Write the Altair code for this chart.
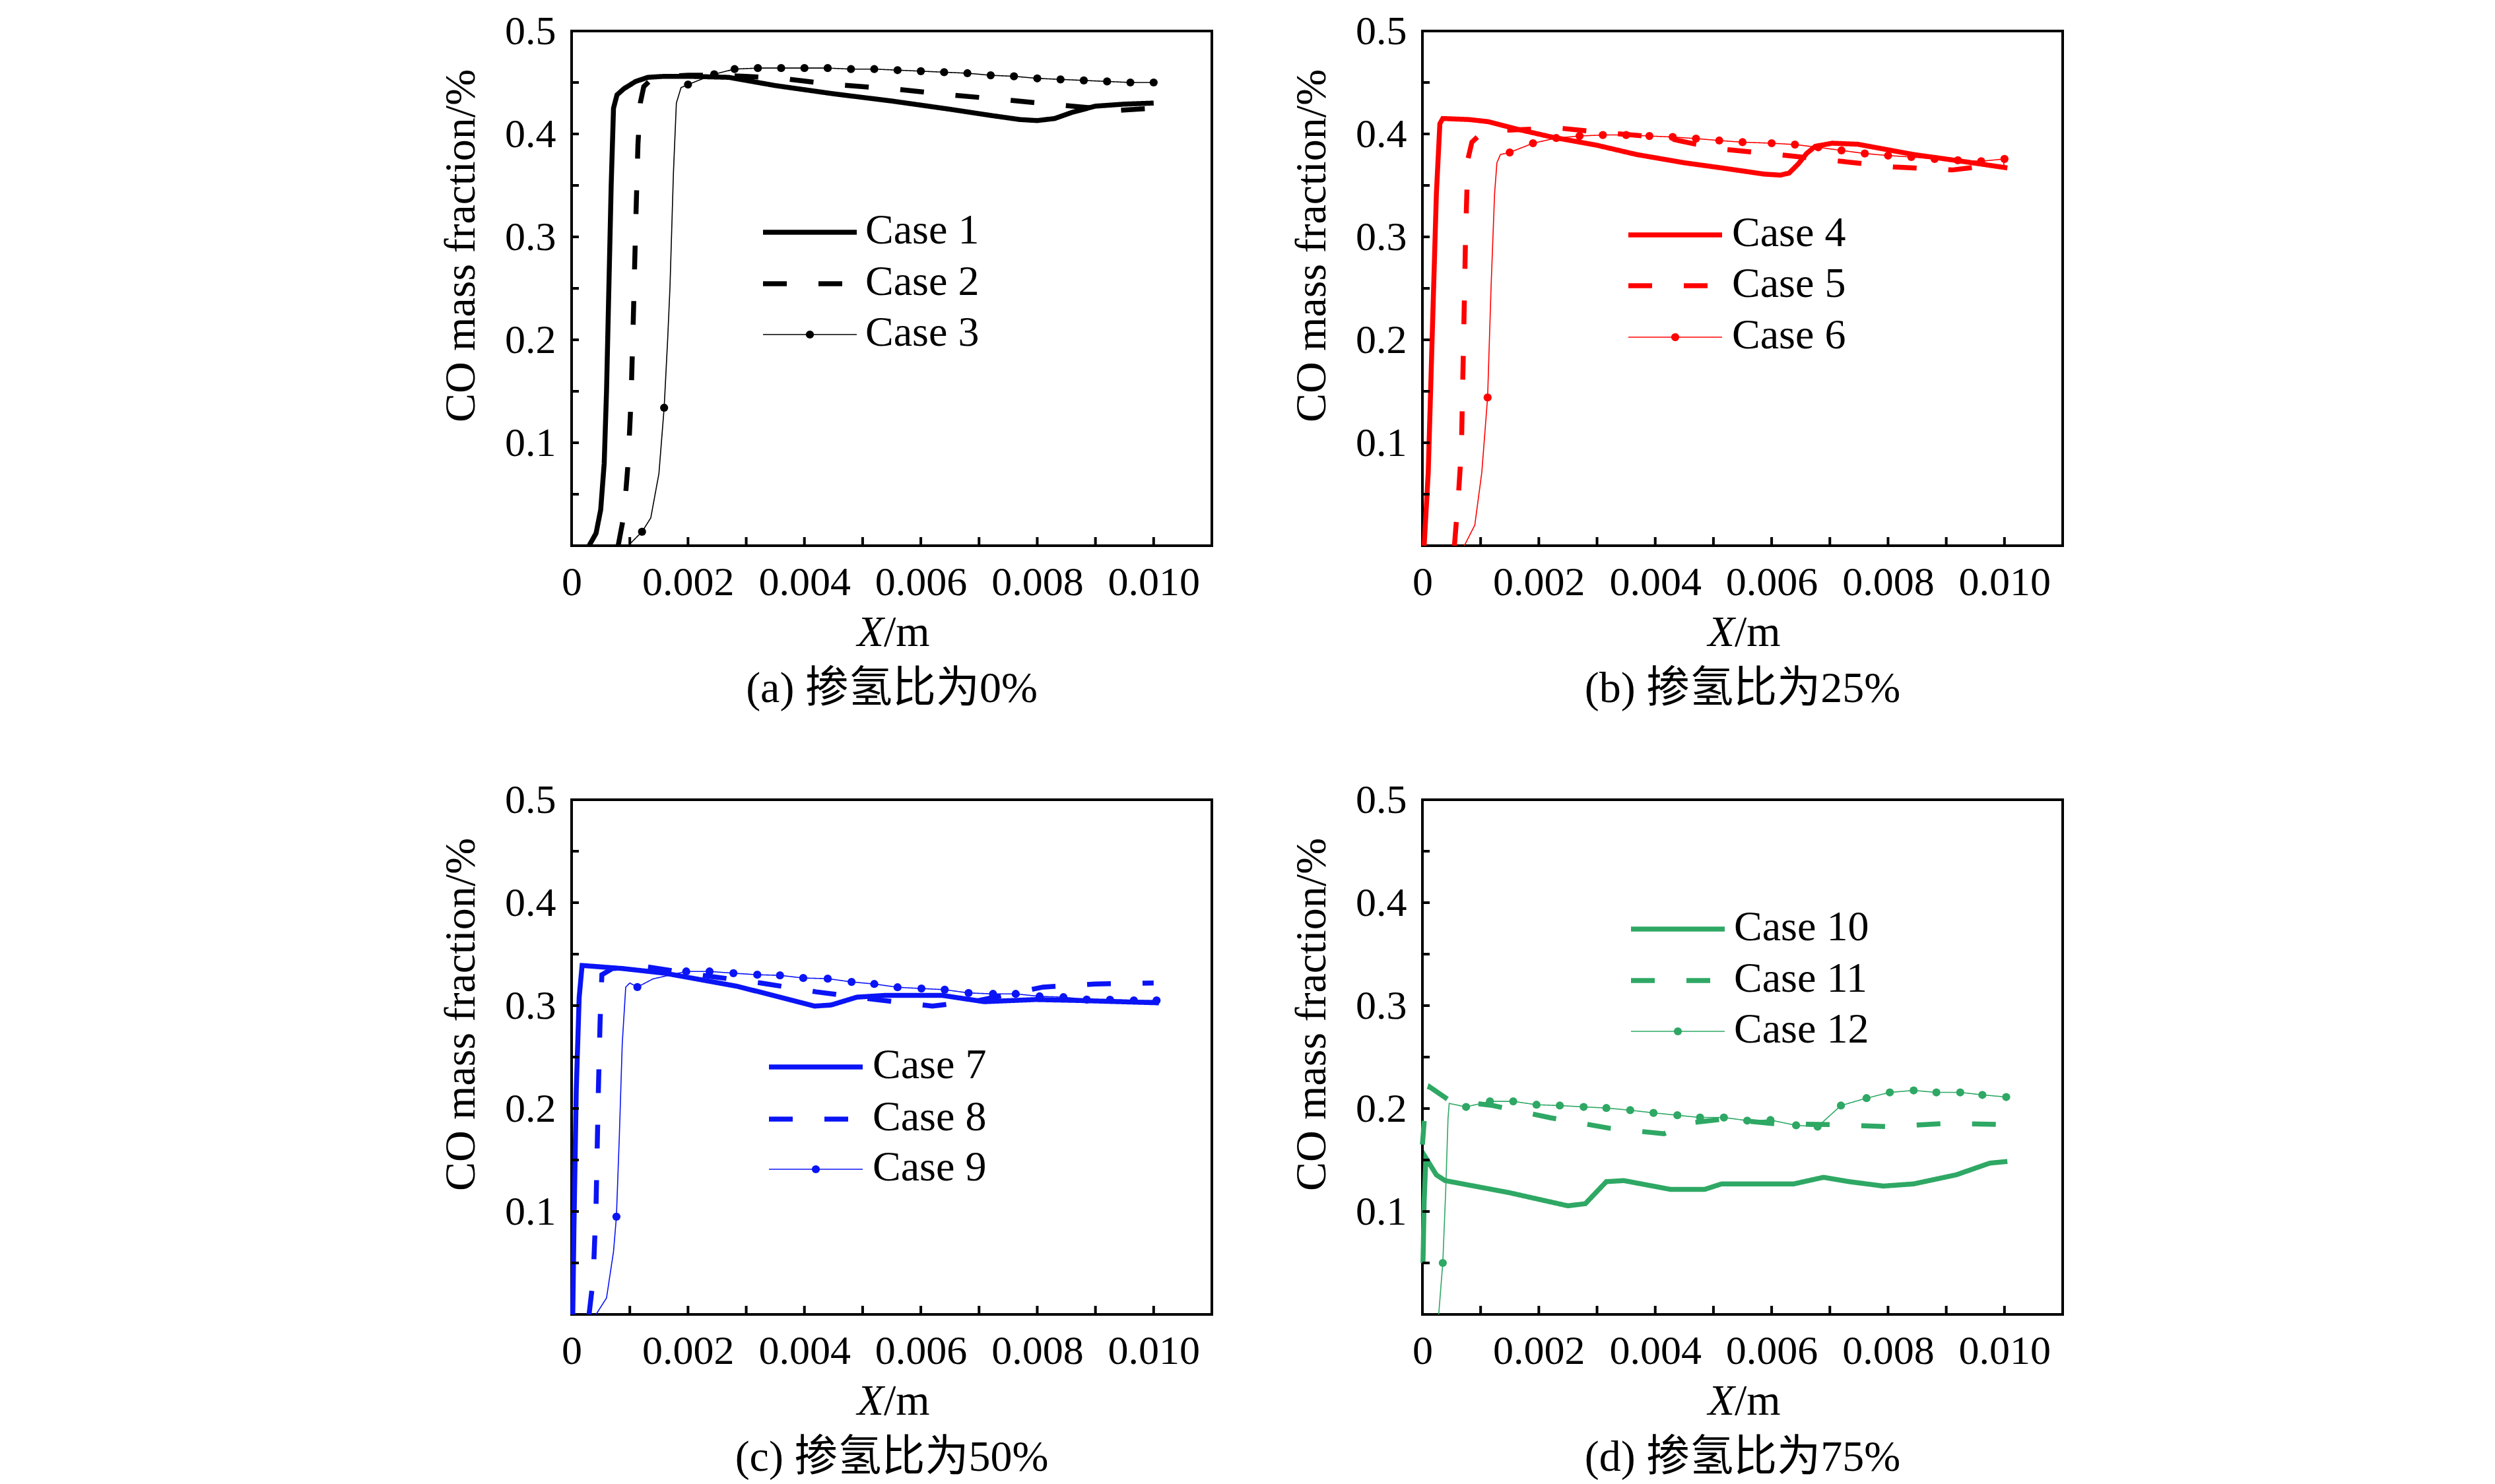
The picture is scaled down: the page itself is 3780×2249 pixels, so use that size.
import altair as alt
import pandas as pd

FONT = "Liberation Serif"
CJK_FONT = "Liberation Serif, Noto Sans CJK SC"
W, H = 970, 780
XDOM = [0, 0.011]
YDOM = [0, 0.5]
X_LABELS = [0, 0.002, 0.004, 0.006, 0.008, 0.010]
Y_LABELS = [0.1, 0.2, 0.3, 0.4, 0.5]
X_TICKS = [0.001, 0.002, 0.003, 0.004, 0.005, 0.006, 0.007, 0.008, 0.009, 0.010]
Y_TICKS = [0.05, 0.10, 0.15, 0.20, 0.25, 0.30, 0.35, 0.40, 0.45]

# ---------------- panel (a) 0% ----------------
a_names = ["Case 1", "Case 2", "Case 3"]
x1 = [0.00030, 0.00042, 0.00050, 0.00056, 0.00060, 0.00064, 0.00068, 0.00072, 0.00078, 0.00090,
      0.00110, 0.00131, 0.0016, 0.0020, 0.0027, 0.0035, 0.0045, 0.0055, 0.0065, 0.0072,
      0.0077, 0.0080, 0.0083, 0.0086, 0.0090, 0.0095, 0.0100]
y1 = [0.0, 0.012, 0.035, 0.080, 0.15, 0.25, 0.35, 0.425, 0.438, 0.444,
      0.451, 0.455, 0.456, 0.456, 0.455, 0.447, 0.439, 0.432, 0.424, 0.418,
      0.414, 0.413, 0.415, 0.421, 0.427, 0.429, 0.430]
x2 = [0.00080, 0.00090, 0.00097, 0.00102, 0.00106, 0.00110, 0.00114, 0.00118, 0.00124, 0.00135,
      0.0016, 0.0020, 0.0025, 0.0030, 0.0036, 0.0045, 0.0055, 0.0065, 0.0075, 0.0084, 0.0094, 0.0100]
y2 = [0.0, 0.03, 0.08, 0.14, 0.22, 0.31, 0.39, 0.43, 0.446, 0.452,
      0.456, 0.457, 0.457, 0.456, 0.454, 0.448, 0.444, 0.438, 0.433, 0.428, 0.423, 0.425]
x3 = [0.00097, 0.00121, 0.00136, 0.00150, 0.00159, 0.00165, 0.00169, 0.00175, 0.00180, 0.00188,
      0.0020, 0.00245, 0.0028, 0.0032, 0.0036, 0.0040, 0.0044, 0.0048, 0.0052, 0.0056,
      0.0060, 0.0064, 0.0068, 0.0072, 0.0076, 0.0080, 0.0084, 0.0088, 0.0092, 0.0096, 0.0100]
y3 = [0.0, 0.0135, 0.027, 0.070, 0.134, 0.200, 0.251, 0.363, 0.430, 0.445,
      0.448, 0.458, 0.463, 0.464, 0.464, 0.464, 0.464, 0.463, 0.463, 0.462,
      0.461, 0.460, 0.459, 0.457, 0.456, 0.454, 0.453, 0.452, 0.451, 0.450, 0.450]
m3 = [0, 1, 0, 0, 1, 0, 0, 0, 0, 0] + [1] * 21

# ---------------- panel (b) 25% ----------------
b_names = ["Case 4", "Case 5", "Case 6"]
x4 = [0.00003, 0.00010, 0.00017, 0.00024, 0.00030, 0.00035, 0.00080, 0.00112, 0.00160, 0.00222,
      0.00300, 0.00368, 0.00450, 0.00514, 0.00587, 0.00615, 0.00630, 0.00646, 0.00660, 0.00675,
      0.00704, 0.00748, 0.00844, 0.00920, 0.01005]
y4 = [0.0, 0.071, 0.207, 0.342, 0.410, 0.415, 0.414, 0.412, 0.405, 0.397,
      0.389, 0.380, 0.372, 0.367, 0.361, 0.360, 0.362, 0.371, 0.381, 0.388,
      0.391, 0.390, 0.380, 0.374, 0.367]
x5 = [0.00055, 0.00062, 0.00067, 0.00071, 0.00074, 0.00078, 0.00085, 0.00100, 0.00120, 0.00160,
      0.00200, 0.00230, 0.00300, 0.00360, 0.00420, 0.00470, 0.00520, 0.00610, 0.00710, 0.00810,
      0.00910, 0.01000]
y5 = [0.0, 0.050, 0.094, 0.207, 0.297, 0.375, 0.392, 0.400, 0.403, 0.404,
      0.405, 0.406, 0.402, 0.399, 0.396, 0.390, 0.385, 0.380, 0.374, 0.368,
      0.365, 0.371]
x6 = [0.00072, 0.00090, 0.00102, 0.00112, 0.00118, 0.00124, 0.00128, 0.00134, 0.0015, 0.0019,
      0.0023, 0.0027, 0.0031, 0.0035, 0.0039, 0.0043, 0.0047, 0.0051, 0.0055, 0.0060,
      0.0064, 0.0068, 0.0072, 0.0076, 0.0080, 0.0084, 0.0088, 0.0092, 0.0096, 0.0100]
y6 = [0.0, 0.020, 0.071, 0.144, 0.252, 0.342, 0.372, 0.380, 0.382, 0.391,
      0.396, 0.398, 0.399, 0.399, 0.398, 0.397, 0.3955, 0.3936, 0.392, 0.391,
      0.3897, 0.387, 0.384, 0.381, 0.379, 0.3776, 0.3757, 0.3744, 0.3735, 0.3757]
m6 = [0, 0, 0, 1, 0, 0, 0, 0] + [1] * 22

# ---------------- panel (c) 50% ----------------
c_names = ["Case 7", "Case 8", "Case 9"]
x7 = [0.00002, 0.00004, 0.00008, 0.00013, 0.00018, 0.00088, 0.00160, 0.00285, 0.00358, 0.00417,
      0.00446, 0.00490, 0.00541, 0.00636, 0.00709, 0.00797, 0.00870, 0.01009]
y7 = [0.0, 0.083, 0.218, 0.308, 0.339, 0.336, 0.3315, 0.3187, 0.3082, 0.2995,
      0.3006, 0.3082, 0.310, 0.310, 0.3038, 0.3059, 0.305, 0.3027]
x8 = [0.00030, 0.00037, 0.00042, 0.00046, 0.00049, 0.00052, 0.00070, 0.00130, 0.00230, 0.00325,
      0.00420, 0.00520, 0.00620, 0.00700, 0.00810, 0.00900, 0.01000]
y8 = [0.0, 0.034, 0.106, 0.218, 0.286, 0.330, 0.336, 0.3377, 0.329, 0.322,
      0.3134, 0.306, 0.2995, 0.305, 0.318, 0.321, 0.322]
x9 = [0.00042, 0.00060, 0.00072, 0.00077, 0.00082, 0.00087, 0.00093, 0.00100, 0.00113, 0.00140,
      0.00197, 0.00237, 0.00278, 0.00319, 0.00358, 0.00398, 0.00440, 0.00481, 0.00520, 0.00560,
      0.00601, 0.00641, 0.00682, 0.00724, 0.00763, 0.00804, 0.00845, 0.00885, 0.00925, 0.00966,
      0.01005]
y9 = [0.0, 0.016, 0.061, 0.095, 0.173, 0.263, 0.318, 0.322, 0.318, 0.326,
      0.3332, 0.3332, 0.3315, 0.330, 0.3294, 0.3268, 0.3262, 0.323, 0.321, 0.3178,
      0.3166, 0.3155, 0.3123, 0.3114, 0.3114, 0.309, 0.3082, 0.3059, 0.3057, 0.305,
      0.305]
m9 = [0, 0, 0, 1, 0, 0, 0, 0, 1, 0] + [1] * 21

# ---------------- panel (d) 75% ----------------
d_names = ["Case 10", "Case 11", "Case 12"]
x10 = [0.00001, 0.00003, 0.00006, 0.00024, 0.00039, 0.00149, 0.00250, 0.00280, 0.00316, 0.00346,
       0.00426, 0.00485, 0.00514, 0.00638, 0.00689, 0.00733, 0.00792, 0.00844, 0.00917, 0.00975,
       0.01005]
y10 = [0.050, 0.110, 0.152, 0.1355, 0.130, 0.1183, 0.1055, 0.1076, 0.129, 0.130,
       0.1215, 0.1215, 0.1268, 0.1268, 0.1332, 0.129, 0.1247, 0.1268, 0.1356, 0.147,
       0.1486]
x11 = [0.00000, 0.00003, 0.00008, 0.00013, 0.00046, 0.00120, 0.00220, 0.00320, 0.00415, 0.00460,
       0.00520, 0.00610, 0.00700, 0.00800, 0.00900, 0.01000]
y11 = [0.165, 0.187, 0.212, 0.2208, 0.208, 0.203, 0.191, 0.181, 0.1755, 0.186,
       0.190, 0.185, 0.1845, 0.1824, 0.1856, 0.1845]
x12 = [0.00028, 0.00035, 0.00040, 0.00044, 0.00046, 0.00075, 0.00116, 0.00156, 0.00196, 0.00236,
       0.00277, 0.00316, 0.00357, 0.00397, 0.00438, 0.00477, 0.00518, 0.00558, 0.00598, 0.00642,
       0.00679, 0.00719, 0.00763, 0.00803, 0.00844, 0.00883, 0.00924, 0.00962, 0.01003]
y12 = [0.0, 0.050, 0.120, 0.190, 0.205, 0.2016, 0.207, 0.207, 0.2037, 0.2029,
       0.2016, 0.2005, 0.1984, 0.1958, 0.1935, 0.1913, 0.1913, 0.1883, 0.1888, 0.1837,
       0.1824, 0.2029, 0.2101, 0.2157, 0.2176, 0.2157, 0.2157, 0.2133, 0.2112]
m12 = [0, 1, 0, 0, 0] + [1] * 24

SUBTITLES = ["(a) 掺氢比为0%", "(b) 掺氢比为25%", "(c) 掺氢比为50%", "(d) 掺氢比为75%"]
COLORS = ["#000000", "#ff0000", "#0a14f5", "#2ea864"]

# legend placement (pixels inside each plot): line start, line end, label x, row y's
LEGEND_POS = [
    (290, 432, 445, [305, 383, 460]),
    (312, 454, 469, [309, 386, 464]),
    (299, 441, 456, [405, 484, 560]),
    (316, 458, 472, [196, 274, 351]),
]

THICK, THIN = 7.5, 1.6
DASH = [36, 48]
DOT = 150


def make_panel(names, series, color, subtitle, legend_pos):
    frames = []
    for name, (xs, ys, ms) in zip(names, series):
        frames.append(pd.DataFrame({"x": xs, "y": ys, "case": name,
                                    "m": ms if ms is not None else [0] * len(xs)}))
    df = pd.concat(frames, ignore_index=True)

    xaxis = alt.Axis(values=X_LABELS, labelExpr="datum.value == 0 ? '0' : format(datum.value, '.3f')",
                     ticks=False, domain=False, grid=False, labelPadding=25, labelFlush=False,
                     title=None)
    yaxis = alt.Axis(values=Y_LABELS, format=".1f", ticks=False, domain=False, grid=False,
                     labelPadding=24, labelFlush=False, title="CO mass fraction/%",
                     titleX=-148, titleY=325, titleBaseline="alphabetic", titleAngle=270)
    X = alt.X("x:Q", scale=alt.Scale(domain=XDOM, nice=False, zero=False), axis=xaxis)
    Y = alt.Y("y:Q", scale=alt.Scale(domain=YDOM, nice=False), axis=yaxis)

    lines = alt.Chart(df).mark_line(color=color).encode(
        x=X, y=Y,
        detail="case:N",
        strokeWidth=alt.StrokeWidth("case:N", scale=alt.Scale(type="ordinal", domain=names,
                                                              range=[THICK, THICK, THIN]),
                                    legend=None),
        strokeDash=alt.StrokeDash("case:N", scale=alt.Scale(domain=names, range=[[1, 0], DASH, [1, 0]]),
                                  legend=None),
        order=alt.Order("x:Q"),
    )
    dots = alt.Chart(df[df["m"] == 1]).mark_circle(size=DOT, opacity=1, color=color).encode(x=X, y=Y)

    xt = alt.Chart(pd.DataFrame({"x": X_TICKS})).mark_rule(color="black", strokeWidth=4).encode(
        x=X, y=alt.value(H), y2=alt.value(H - 13))
    yt = alt.Chart(pd.DataFrame({"y": Y_TICKS})).mark_rule(color="black", strokeWidth=4).encode(
        y=Y, x=alt.value(0), x2=alt.value(11))

    x0, x1_, lx, rows = legend_pos
    leg = []
    styles = [(THICK, None, x1_), (THICK, DASH, x0 + 121), (THIN, None, x1_)]
    for i, name in enumerate(names):
        sw, dash, xe = styles[i]
        one = pd.DataFrame({"case": [name]})
        kw = dict(color=color, strokeWidth=sw)
        if dash:
            kw["strokeDash"] = dash
        leg.append(alt.Chart(one).mark_rule(**kw).encode(
            x=alt.value(x0), x2=alt.value(xe), y=alt.value(rows[i])))
        leg.append(alt.Chart(one).mark_text(font=FONT, fontSize=64, align="left", baseline="middle",
                                            color="black").encode(
            text="case:N", x=alt.value(lx), y=alt.value(rows[i] - 2)))
    leg.append(alt.Chart(pd.DataFrame({"case": [names[2]]})).mark_circle(size=DOT, opacity=1, color=color)
               .encode(x=alt.value((x0 + x1_) / 2), y=alt.value(rows[2])))

    txt_x = alt.Chart(pd.DataFrame({"t": ["X"]})).mark_text(
        font=FONT, fontSize=66, fontStyle="italic", align="right", baseline="alphabetic", color="black"
    ).encode(text="t:N", x=alt.value(W / 2 - 12), y=alt.value(H + 152))
    txt_m = alt.Chart(pd.DataFrame({"t": ["/m"]})).mark_text(
        font=FONT, fontSize=66, align="left", baseline="alphabetic", color="black"
    ).encode(text="t:N", x=alt.value(W / 2 - 12), y=alt.value(H + 152))
    txt_sub = alt.Chart(pd.DataFrame({"t": [subtitle]})).mark_text(
        font=CJK_FONT, fontSize=66, align="center", baseline="alphabetic", color="black"
    ).encode(text="t:N", x=alt.value(W / 2), y=alt.value(H + 237))

    return alt.layer(lines, dots, xt, yt, *leg, txt_x, txt_m, txt_sub).properties(width=W, height=H)


pa = make_panel(a_names, [(x1, y1, None), (x2, y2, None), (x3, y3, m3)], COLORS[0], SUBTITLES[0], LEGEND_POS[0])
pb = make_panel(b_names, [(x4, y4, None), (x5, y5, None), (x6, y6, m6)], COLORS[1], SUBTITLES[1], LEGEND_POS[1])
pc = make_panel(c_names, [(x7, y7, None), (x8, y8, None), (x9, y9, m9)], COLORS[2], SUBTITLES[2], LEGEND_POS[2])
pd_ = make_panel(d_names, [(x10, y10, None), (x11, y11, None), (x12, y12, m12)], COLORS[3], SUBTITLES[3], LEGEND_POS[3])

chart = alt.vconcat(
    alt.hconcat(pa, pb, spacing=114),
    alt.hconcat(pc, pd_, spacing=114),
    spacing=100,
).properties(
    padding={"left": 655, "top": 6, "right": 5, "bottom": 5}
).configure_view(
    stroke="black", strokeWidth=4
).configure_axis(
    labelFont=FONT, labelFontSize=62, labelColor="black",
    titleFont=FONT, titleFontSize=66, titleColor="black", titleFontWeight="normal"
)

chart.save("out.html", embed_options={"renderer": "svg", "actions": False})
